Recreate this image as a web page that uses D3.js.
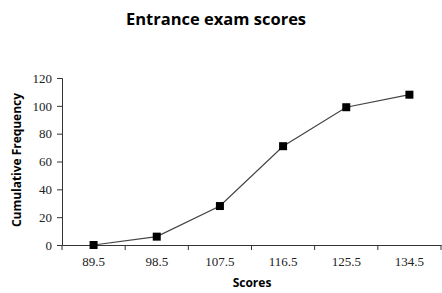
<!DOCTYPE html>
<html>
<head>
<meta charset="utf-8">
<script src="https://cdn.jsdelivr.net/npm/d3@7"></script>
<style>
  body { margin: 0; background: #fff; }
  svg { display: block; }
</style>
</head>
<body>
<svg width="442" height="293"></svg>
<script>
const scores = ["89.5", "98.5", "107.5", "116.5", "125.5", "134.5"];
const cumulative = [0, 6, 28, 71, 99, 108];
const yTicks = [0, 20, 40, 60, 80, 100, 120];

const svg = d3.select("svg");
const plotLeft = 62, plotRight = 441, plotTop = 78, plotBottom = 245;

const x = d3.scaleBand().domain(scores).range([plotLeft, plotRight]);
const y = d3.scaleLinear().domain([0, 120]).range([plotBottom, plotTop]);

// title
svg.append("text")
  .attr("x", 216).attr("y", 25)
  .attr("text-anchor", "middle")
  .style("font-family", "'Open Sans', sans-serif")
  .style("font-weight", "bold")
  .style("font-size", "16.5px")
  .text("Entrance exam scores");

// axes
const yAxis = svg.append("g")
  .attr("transform", `translate(${plotLeft},0)`)
  .call(d3.axisLeft(y).tickValues(yTicks).tickSize(5).tickPadding(5));

const xAxis = svg.append("g")
  .attr("transform", `translate(0,${plotBottom})`)
  .call(d3.axisBottom(x).tickSize(0).tickPadding(10));

// category boundary ticks
xAxis.selectAll("line.bound")
  .data(d3.range(scores.length + 1))
  .enter().append("line")
  .attr("class", "bound")
  .attr("x1", i => plotLeft + i * x.step())
  .attr("x2", i => plotLeft + i * x.step())
  .attr("y1", 0).attr("y2", 5)
  .attr("stroke", "#333");

[yAxis, xAxis].forEach(g => {
  g.select(".domain").attr("stroke", "#333");
  g.selectAll(".tick line").attr("stroke", "#333");
  g.selectAll("text")
    .attr("fill", "#222")
    .style("font-family", "'Liberation Serif', 'Times New Roman', serif")
    .style("font-size", "13px");
});
xAxis.selectAll(".tick text").attr("dy", "0.85em");

// axis titles
svg.append("text")
  .attr("transform", "translate(21,160) rotate(-90)")
  .attr("text-anchor", "middle")
  .style("font-family", "'Open Sans', sans-serif")
  .style("font-weight", "bold")
  .style("font-size", "12px")
  .attr("textLength", 134)
  .text("Cumulative Frequency");

svg.append("text")
  .attr("x", 252).attr("y", 287)
  .attr("text-anchor", "middle")
  .style("font-family", "'Open Sans', sans-serif")
  .style("font-weight", "bold")
  .style("font-size", "12px")
  .text("Scores");

// line + markers
const pts = scores.map((s, i) => [x(s) + x.bandwidth() / 2, y(cumulative[i])]);

svg.append("path")
  .attr("d", d3.line()(pts))
  .attr("fill", "none")
  .attr("stroke", "#444")
  .attr("stroke-width", 1.2);

svg.selectAll("rect.pt")
  .data(pts)
  .enter().append("rect")
  .attr("class", "pt")
  .attr("x", d => d[0] - 4)
  .attr("y", d => d[1] - 4)
  .attr("width", 8).attr("height", 8)
  .attr("fill", "#000");
</script>
</body>
</html>
